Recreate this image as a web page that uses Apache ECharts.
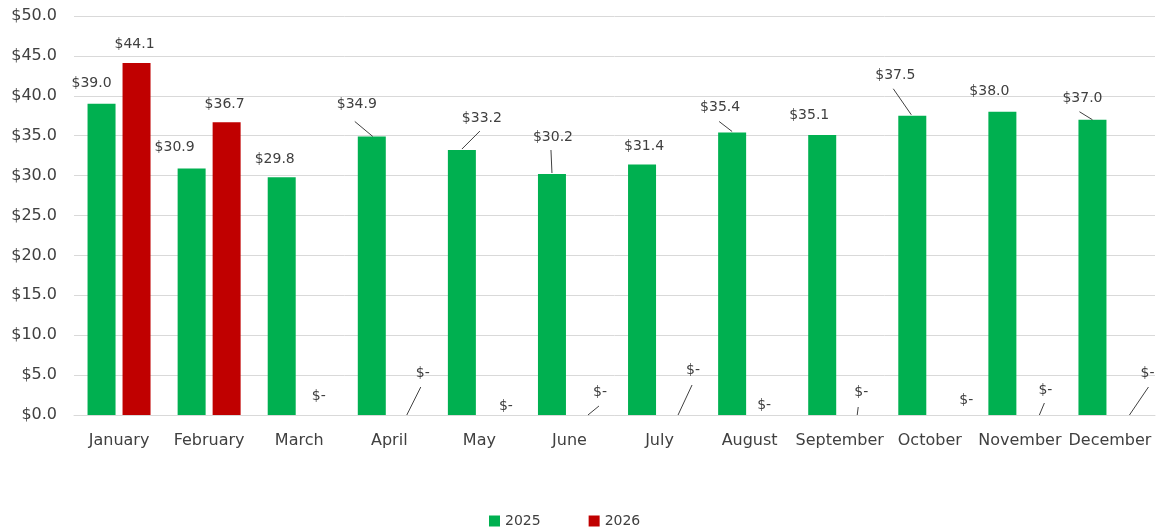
<!DOCTYPE html>
<html>
<head>
<meta charset="utf-8">
<script src="https://cdn.jsdelivr.net/npm/echarts@6/dist/echarts.min.js"></script>
<style>
  html, body { margin: 0; padding: 0; background: #fff; }
</style>
</head>
<body>
<div id="chart" style="width: 1161px;height: 531px;"></div>
<script>
var months = ['January', 'February', 'March', 'April', 'May', 'June', 'July', 'August', 'September', 'October', 'November', 'December']
var sales2025 = [39.0, 30.9, 29.8, 34.9, 33.2, 30.2, 31.4, 35.4, 35.1, 37.5, 38.0, 37.0]
var sales2026 = [44.1, 36.7, 0, 0, 0, 0, 0, 0, 0, 0, 0, 0]

// label placement, offset from the top centre of each bar (Excel moved them by hand)
var offsets2025 = [[-10, -20], [-17, -21], [-7, -18], [-15, -32], [20, -32], [1, -37], [2, -18], [-12, -25], [-13, -20], [-17, -40], [-13, -20], [-10, -21]]
var offsets2026 = [[-2, -19], [-2, -18], [2, -19], [16, -42], [9, -9], [13, -23], [16, -45], [-3, -10], [4, -23], [19, -15], [8, -25], [20, -42]]
// leader lines: [start, end] relative to the top centre of the bar
var leaders2025 = [null, null, null, [[-17, -15], [1, 0]], [[18, -19], [0, -1]], [[-1, -24], [0, -1]], null, [[-13, -11], [0, -1]], null, [[-19, -27], [-1, -1]], null, [[-13, -8], [0, 0]]]
var leaders2026 = [null, null, null, [[14, -28], [0, 0]], null, [[12, -9], [1, 0]], [[15, -30], [1, 0]], null, [[1, -8], [0, 0]], null, [[7, -12], [2, 0]], [[21, -28], [2, 0]]]

var textColor = '#404040'
var fontFamily = 'DejaVu Sans'
var barWidth = 28
var barGapPx = 7
var barShift = (barWidth + barGapPx) / 2

function money(v) {
  return v === 0 ? '$-' : '$' + v.toFixed(1)
}

function layoutFor(offsets) {
  return function(params) {
    var off = offsets[params.dataIndex]
    return {
      x: params.rect.x + params.rect.width / 2 + off[0],
      y: params.rect.y + off[1],
      align: 'center',
      verticalAlign: 'middle'
    }
  }
}

function leaderSeries(name, values, leaders, side) {
  return {
    name: name,
    type: 'custom',
    silent: true,
    z: 3,
    data: values.map(function(v, i) { return [i, v] }),
    renderItem: function(params, api) {
      var seg = leaders[params.dataIndex]
      if (!seg) return null
      var top = api.coord([api.value(0), api.value(1)])
      var cx = top[0] + side * barShift
      return {
        type: 'line',
        shape: {
          x1: cx + seg[0][0], y1: top[1] + seg[0][1],
          x2: cx + seg[1][0], y2: top[1] + seg[1][1]
        },
        style: { stroke: '#404040', lineWidth: 1 }
      }
    }
  }
}

var barLabel = {
  show: true,
  position: 'top',
  color: textColor,
  fontFamily: fontFamily,
  fontSize: 14,
  formatter: function(p) { return money(p.value) }
}

var option = {
  animation: false,
  textStyle: { fontFamily: fontFamily },
  grid: {
    left: 74,
    right: 6,
    top: 16,
    bottom: 116
  },
  legend: {
    left: 484,
    top: 509,
    itemWidth: 11,
    itemHeight: 11,
    itemGap: 48,
    icon: 'rect',
    textStyle: { color: textColor, fontSize: 14, fontFamily: fontFamily },
    data: ['2025', '2026']
  },
  xAxis: {
    type: 'category',
    data: months,
    axisLine: { lineStyle: { color: '#d9d9d9' }},
    axisTick: { show: false },
    axisLabel: { color: textColor, fontSize: 16, margin: 18, interval: 0 }
  },
  yAxis: {
    type: 'value',
    min: 0,
    max: 50,
    interval: 5,
    axisLine: { show: false },
    axisTick: { show: false },
    axisLabel: {
      color: textColor,
      fontSize: 16,
      margin: 17,
      formatter: function(v) { return '$' + v.toFixed(1) }
    },
    splitLine: { lineStyle: { color: '#d9d9d9' }}
  },
  series: [{
    name: '2025',
    type: 'bar',
    barWidth: barWidth,
    barGap: (barGapPx / barWidth * 100) + '%',
    itemStyle: { color: '#00b050' },
    label: barLabel,
    labelLayout: layoutFor(offsets2025),
    data: sales2025
  }, {
    name: '2026',
    type: 'bar',
    barWidth: barWidth,
    barGap: (barGapPx / barWidth * 100) + '%',
    itemStyle: { color: '#c00000' },
    label: barLabel,
    labelLayout: layoutFor(offsets2026),
    data: sales2026
  },
  leaderSeries('leaders 2025', sales2025, leaders2025, -1),
  leaderSeries('leaders 2026', sales2026, leaders2026, 1)
  ]
}

var chart = echarts.init(document.getElementById('chart'))
chart.setOption(option)
</script>
</body>
</html>
